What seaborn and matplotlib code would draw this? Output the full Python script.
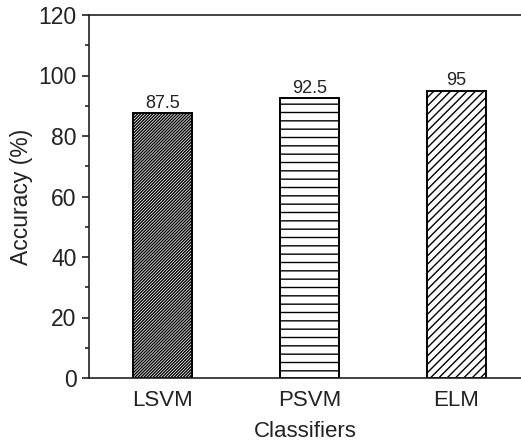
import matplotlib
matplotlib.use("Agg")
import matplotlib.pyplot as plt
from matplotlib.ticker import MultipleLocator
import seaborn as sns

# data
classifiers = ["LSVM", "PSVM", "ELM"]
accuracy = [87.5, 92.5, 95]
hatches = ["/" * 11, "--", "////"]

sns.set_style("ticks")
plt.rcParams["font.family"] = ["Liberation Sans", "DejaVu Sans"]
plt.rcParams["hatch.linewidth"] = 1.0
plt.rcParams["hatch.color"] = "black"

fig = plt.figure(figsize=(5.21, 4.46), dpi=100)
ax = fig.add_axes([89 / 521, 1 - 378 / 446, 1 - 89 / 521, (378 - 15) / 446])

sns.barplot(x=classifiers, y=accuracy, color="white", edgecolor="black",
            linewidth=1.4, width=0.4, ax=ax)

for patch, h in zip(ax.patches, hatches):
    patch.set_hatch(h)
    patch.set_facecolor("white")

ax.bar_label(ax.containers[0], labels=[f"{v:g}" for v in accuracy],
             padding=1, fontsize=13, color="#222222")

ax.set_xlim(-0.5, 2.44)
ax.set_ylim(0, 120)
ax.yaxis.set_major_locator(MultipleLocator(20))
ax.yaxis.set_minor_locator(MultipleLocator(10))
ax.tick_params(axis="y", which="major", length=5, width=1.2, labelsize=16.5,
               pad=4, colors="#222222")
ax.tick_params(axis="y", which="minor", length=3, width=1.2)
ax.tick_params(axis="x", length=0, labelsize=16, pad=9, colors="#222222")

for side in ["left", "bottom", "top"]:
    ax.spines[side].set_visible(True)
    ax.spines[side].set_linewidth(1.2)
    ax.spines[side].set_color("#222222")
ax.spines["right"].set_visible(False)

ax.set_xlabel("Classifiers", fontsize=16, color="#222222", labelpad=7)
ax.set_ylabel("Accuracy (%)", fontsize=16.5, color="#222222")
ax.yaxis.set_label_coords(-0.13, 0.5)

fig.savefig("out.png", dpi=100)
